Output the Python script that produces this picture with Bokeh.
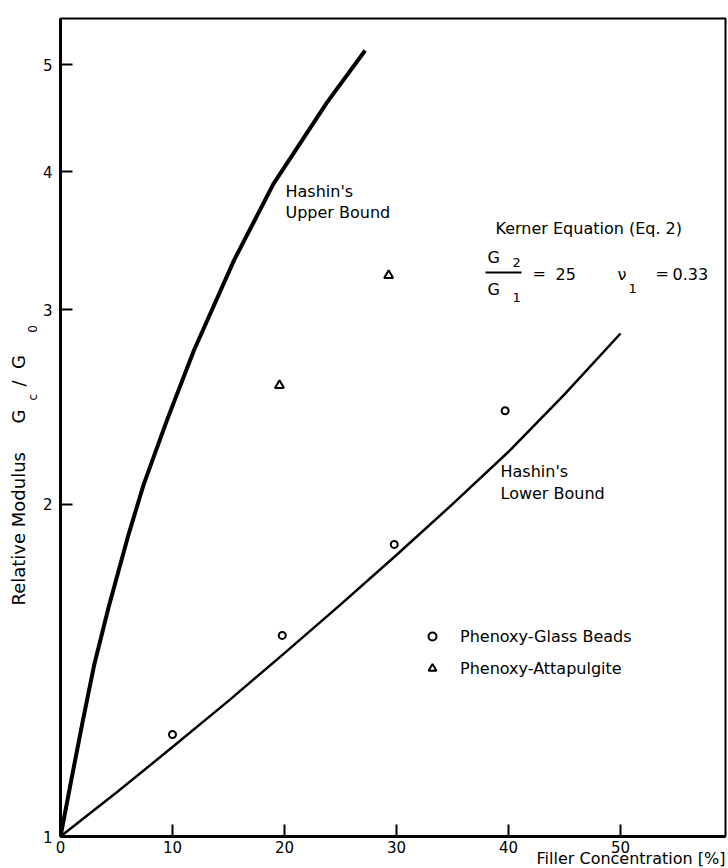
from bokeh.plotting import figure
from bokeh.models import Label, FixedTicker, PrintfTickFormatter, Legend, LegendItem, BoxAnnotation, Title
from bokeh.embed import file_html
from bokeh.resources import INLINE

# ---- data ----
upper_x = [0, 1.0, 2.0, 3.0, 4.3, 6.0, 7.4, 9.5, 11.9, 15.5, 19.0, 23.8, 27.2]
upper_y = [1.0, 1.130, 1.274, 1.429, 1.614, 1.866, 2.080, 2.382, 2.754, 3.327, 3.899, 4.624, 5.152]

lower_x = [0, 5, 10, 15, 20, 25, 30, 35, 40, 45, 50]
lower_y = [1.0, 1.096, 1.205, 1.327, 1.466, 1.622, 1.799, 2.000, 2.231, 2.515, 2.855]

glass_x = [10, 19.8, 29.8, 39.7]
glass_y = [1.237, 1.521, 1.839, 2.43]

atta_x = [19.55, 29.3]
atta_y = [2.562, 3.223]

x_ticks = [0, 10, 20, 30, 40, 50]
y_ticks = [1, 2, 3, 4, 5]

# ---- geometry (pixels) ----
FL, FT, FB = 60, 18, 836
W, H = 728, 868
PXX = 11.2
DEC = 1104.0


def dx(px):
    return (px - FL) / PXX


def dy(py):
    return 10 ** ((FB - py) / DEC)


FONT = "DejaVu Sans"
NB = "\u00a0"
TS = "16px"

p = figure(width=W, height=H, y_axis_type="log",
           x_range=(0, (W - 3 - FL) / PXX), y_range=(1, dy(FT)),
           output_backend="svg", toolbar_location=None,
           min_border_left=FL, min_border_right=3, min_border_top=FT,
           min_border_bottom=H - FB)
p.grid.visible = False
p.outline_line_color = "black"
p.outline_line_width = 2
p.background_fill_color = "white"
p.border_fill_color = "white"

for ax in (p.xaxis[0], p.yaxis[0]):
    ax.axis_line_width = 3
    ax.axis_line_color = "black"
    ax.major_tick_in = 12
    ax.major_tick_out = 0
    ax.major_tick_line_width = 2
    ax.minor_tick_in = 0
    ax.minor_tick_out = 0
    ax.major_label_text_font = FONT
    ax.major_label_text_font_size = "15px"
    ax.major_label_text_color = "black"

p.xaxis.ticker = FixedTicker(ticks=x_ticks)
p.xaxis.major_label_standoff = 4
p.yaxis.ticker = FixedTicker(ticks=y_ticks)
p.yaxis.formatter = PrintfTickFormatter(format="%d")
p.yaxis.major_label_standoff = 8

p.line(upper_x, upper_y, line_color="black", line_width=4, line_join="round")
p.line(lower_x, lower_y, line_color="black", line_width=2.5, line_join="round")

r_glass = p.scatter(glass_x, glass_y, marker="circle", size=7, fill_color="white",
                    line_color="black", line_width=2)
r_atta = p.scatter(atta_x, atta_y, marker="triangle", size=9, fill_color="white",
                   line_color="black", line_width=2)

legend = Legend(items=[LegendItem(label="Phenoxy-Glass Beads", renderers=[r_glass]),
                       LegendItem(label="Phenoxy-Attapulgite", renderers=[r_atta])],
                location=(362, 836 - 678), orientation="vertical",
                glyph_width=20, glyph_height=20, label_height=20, spacing=12,
                label_standoff=18, padding=0, margin=0,
                border_line_color=None, background_fill_alpha=0,
                label_text_font=FONT, label_text_font_size=TS,
                label_text_color="black", label_text_baseline="middle")
p.add_layout(legend)


def lab(px, py, text, size=TS, align="left"):
    p.add_layout(Label(x=px - FL, y=FB - py, x_units="screen", y_units="screen",
                       text=text, text_font=FONT,
                       text_font_size=size, text_baseline="middle",
                       text_align=align, text_color="black"))


# curve labels
lab(285, 191, "Hashin's")
lab(285, 212, "Upper Bound")
lab(500, 471, "Hashin's")
lab(500, 493, "Lower Bound")

# Kerner equation block
lab(495, 228, "Kerner Equation (Eq. 2)")
lab(487, 257, "G")
lab(512, 262, "2", size="13px")
p.add_layout(BoxAnnotation(left=dx(485), right=dx(521), top=dy(271), bottom=dy(273),
                           fill_color="black", fill_alpha=1, line_color=None))
lab(487, 289, "G")
lab(512, 297, "1", size="13px")
lab(532, 273, "=")
lab(555, 273, "25")
lab(617, 274, "\u03bd")
lab(628, 288, "1", size="13px")
lab(655, 273, "=")
lab(672, 273, "0.33")

# x axis title (side panel below the axis, right aligned, pulled up beside the tick labels)
p.add_layout(Title(text="Filler Concentration  [%]", align="right", offset=-5, standoff=-14,
                   vertical_align="top",
                   text_font=FONT, text_font_size="16px", text_font_style="normal",
                   text_color="black"), "below")

# y axis title: subscripts first (next to the axis), then the main line
p.add_layout(Title(text="c" + NB * 16 + "0", align="left", offset=FB - 400, standoff=0,
                   text_font=FONT, text_font_size="12px", text_font_style="normal",
                   text_color="black"), "left")
p.add_layout(Title(text="Relative Modulus" + NB * 5 + "G" + NB * 4 + "/" + NB * 2 + "G",
                   align="left", offset=FB - 605, standoff=-10,
                   text_font=FONT, text_font_size="18px", text_font_style="normal",
                   text_color="black"), "left")

open("out.html", "w").write(file_html(p, INLINE))
